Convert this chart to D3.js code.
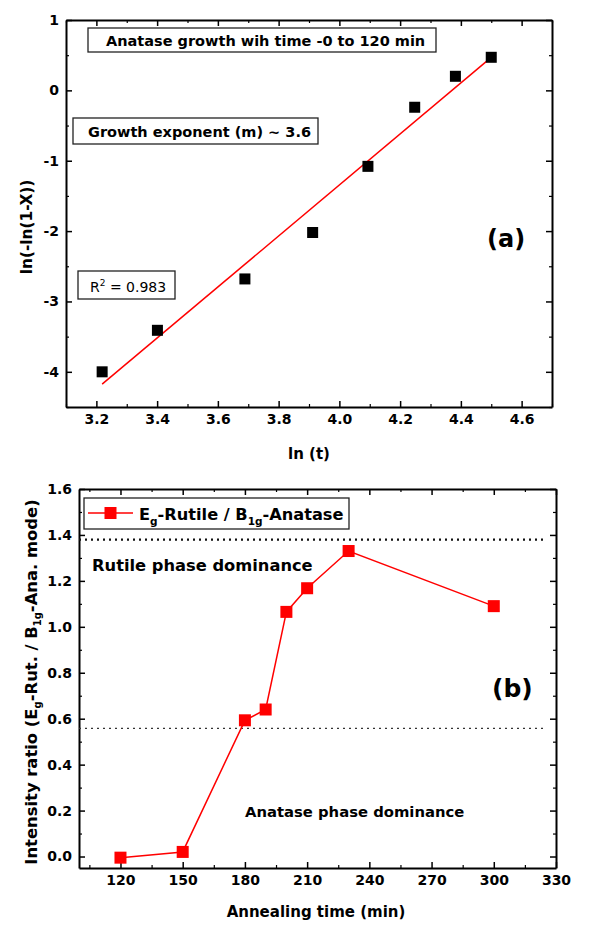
<!DOCTYPE html>
<html>
<head>
<meta charset="utf-8">
<script src="https://cdn.jsdelivr.net/npm/d3@7"></script>
<style>
  body { margin: 0; background: #fff; }
  text { font-family: "DejaVu Sans", sans-serif; }
</style>
</head>
<body>
<svg id="chart"></svg>
<script>
// panel (a) - Avrami plot, ln(-ln(1-X)) vs ln(t)
const lnT = [3.219, 3.401, 3.689, 3.912, 4.094, 4.248, 4.382, 4.500];
const lnLnX = [-4.00, -3.41, -2.68, -2.02, -1.08, -0.24, 0.20, 0.47];
const xTicksA = [3.2, 3.4, 3.6, 3.8, 4.0, 4.2, 4.4, 4.6];
const yTicksA = [1, 0, -1, -2, -3, -4];

// panel (b) - Eg(rutile)/B1g(anatase) intensity ratio vs annealing time
const annealTime = [120, 150, 180, 190, 200, 210, 230, 300];
const intensityRatio = [-0.005, 0.02, 0.593, 0.64, 1.065, 1.168, 1.33, 1.09];
const xTicksB = [120, 150, 180, 210, 240, 270, 300, 330];
const yTicksB = [0, 0.2, 0.4, 0.6, 0.8, 1.0, 1.2, 1.4, 1.6];
const rutileLevel = 1.38;
const anataseLevel = 0.558;

const W = 600, H = 928;
const svg = d3.select('#chart').attr('width', W).attr('height', H);

// draws a boxed frame with inward ticks on all four sides
function frame(g, x, y, majorX, majorY, minorX, minorY, fmtX, fmtY) {
    const [x0, x1] = x.range();
    const [y0, y1] = y.range(); // y0 = bottom
    const axes = [
        [d3.axisBottom(x), `translate(0,${y0})`, majorX, minorX, fmtX],
        [d3.axisTop(x), `translate(0,${y1})`, majorX, minorX, null],
        [d3.axisLeft(y), `translate(${x0},0)`, majorY, minorY, fmtY],
        [d3.axisRight(y), `translate(${x1},0)`, majorY, minorY, null]
    ];
    axes.forEach(([ax, tr, major, minor, fmt]) => {
        const a = g.append('g').attr('transform', tr)
            .call(ax.tickValues(major).tickSizeInner(-6).tickSizeOuter(0)
                .tickPadding(fmt ? 7 : 0).tickFormat(fmt || (() => '')));
        a.select('.domain').attr('stroke-width', 2);
        a.selectAll('.tick line').attr('stroke-width', 1.5);
        if (!fmt) a.selectAll('text').remove();
        a.selectAll('text').attr('font-size', 14).attr('font-weight', 'bold').attr('fill', '#000');
        const m = g.append('g').attr('transform', tr)
            .call(ax.tickValues(minor).tickSizeInner(-3).tickFormat(() => ''));
        m.select('.domain').remove();
        m.selectAll('text').remove();
        m.selectAll('.tick line').attr('stroke-width', 1.2);
    });
}

function boxText(g, x, y, w, h) {
    g.append('rect').attr('x', x).attr('y', y).attr('width', w).attr('height', h)
        .attr('fill', '#fff').attr('stroke', '#222').attr('stroke-width', 1.3);
}

// ---------- panel (a) ----------
const xA = d3.scaleLinear().domain([3.1, 4.7]).range([66, 552]);
const yA = d3.scaleLinear().domain([-4.5, 1]).range([407, 20]);
const gA = svg.append('g');

frame(gA, xA, yA, xTicksA, yTicksA,
    d3.range(3.1, 4.71, 0.1).filter(v => Math.abs(Math.round(v * 10) % 2) === 1),
    d3.range(-4.5, 1, 1),
    d3.format('.1f'), d => String(d));

// least squares fit
const mx = d3.mean(lnT), my = d3.mean(lnLnX);
const slope = d3.sum(lnT, (v, i) => (v - mx) * (lnLnX[i] - my)) / d3.sum(lnT, v => (v - mx) ** 2);
const icpt = my - slope * mx;
const fitX = d3.extent(lnT);
gA.append('line')
    .attr('x1', xA(fitX[0])).attr('y1', yA(icpt + slope * fitX[0]))
    .attr('x2', xA(fitX[1])).attr('y2', yA(icpt + slope * fitX[1]))
    .attr('stroke', '#f00').attr('stroke-width', 1.5);

gA.selectAll('.pt').data(lnT).join('rect')
    .attr('x', d => xA(d) - 5.5).attr('y', (d, i) => yA(lnLnX[i]) - 5.5)
    .attr('width', 11).attr('height', 11).attr('fill', '#000');

boxText(gA, 88, 28, 348, 24);
gA.append('text').attr('x', 106).attr('y', 46).attr('font-size', 14.5).attr('font-weight', 'bold')
    .text('Anatase growth wih time -0 to 120 min');
boxText(gA, 73, 118, 245, 26);
gA.append('text').attr('x', 88).attr('y', 137).attr('font-size', 14.5).attr('font-weight', 'bold')
    .text('Growth exponent (m) ~ 3.6');
boxText(gA, 78, 271, 97, 28);
const r2 = gA.append('text').attr('x', 90).attr('y', 292).attr('font-size', 14);
r2.append('tspan').text('R');
r2.append('tspan').attr('dy', -6).attr('font-size', 9).text('2');
r2.append('tspan').attr('dy', 6).text(' = 0.983');

gA.append('text').attr('x', 487).attr('y', 247).attr('font-size', 24).attr('font-weight', 'bold').text('(a)');

gA.append('text').attr('x', 309).attr('y', 459).attr('text-anchor', 'middle')
    .attr('font-size', 15).attr('font-weight', 'bold').text('ln (t)');
gA.append('text').attr('transform', 'translate(32,227) rotate(-90)').attr('text-anchor', 'middle')
    .attr('font-size', 15.4).attr('font-weight', 'bold').text('ln(-ln(1-X))');

// ---------- panel (b) ----------
const xB = d3.scaleLinear().domain([100, 330]).range([79, 556]);
const yB = d3.scaleLinear().domain([-0.05, 1.6]).range([868, 489]);
const gB = svg.append('g');

frame(gB, xB, yB, xTicksB, yTicksB,
    d3.range(105, 330, 30), d3.range(0.1, 1.6, 0.2),
    d3.format('d'), d3.format('.1f'));

gB.append('line')
    .attr('x1', xB(100)).attr('x2', xB(324))
    .attr('y1', yB(rutileLevel)).attr('y2', yB(rutileLevel))
    .attr('stroke', '#111').attr('stroke-width', 2.2).attr('stroke-dasharray', '2,4');
gB.append('line')
    .attr('x1', xB(100)).attr('x2', xB(324))
    .attr('y1', yB(anataseLevel)).attr('y2', yB(anataseLevel))
    .attr('stroke', '#333').attr('stroke-width', 1.2).attr('stroke-dasharray', '2,4');

const line = d3.line().x(d => xB(d[0])).y(d => yB(d[1]));
gB.append('path').datum(annealTime.map((t, i) => [t, intensityRatio[i]]))
    .attr('d', line).attr('fill', 'none').attr('stroke', '#f00').attr('stroke-width', 1.5);
gB.selectAll('.pt').data(annealTime).join('rect')
    .attr('x', d => xB(d) - 6).attr('y', (d, i) => yB(intensityRatio[i]) - 6)
    .attr('width', 12).attr('height', 12).attr('fill', '#f00');

// legend
boxText(gB, 84, 498, 265, 31);
gB.append('line').attr('x1', 88).attr('x2', 133).attr('y1', 513).attr('y2', 513)
    .attr('stroke', '#f00').attr('stroke-width', 1.5);
gB.append('rect').attr('x', 104.5).attr('y', 507).attr('width', 12).attr('height', 12).attr('fill', '#f00');
const lg = gB.append('text').attr('x', 139).attr('y', 520).attr('font-size', 16.2).attr('font-weight', 'bold');
lg.append('tspan').text('E');
lg.append('tspan').attr('dy', 5).attr('font-size', 10.5).text('g');
lg.append('tspan').attr('dy', -5).text('-Rutile / B');
lg.append('tspan').attr('dy', 5).attr('font-size', 10.5).text('1g');
lg.append('tspan').attr('dy', -5).text('-Anatase');

gB.append('text').attr('x', 92).attr('y', 571).attr('font-size', 16.3).attr('font-weight', 'bold')
    .text('Rutile phase dominance');
gB.append('text').attr('x', 245).attr('y', 817).attr('font-size', 14.8).attr('font-weight', 'bold')
    .text('Anatase phase dominance');
gB.append('text').attr('x', 492).attr('y', 697).attr('font-size', 25).attr('font-weight', 'bold').text('(b)');

gB.append('text').attr('x', 316).attr('y', 917).attr('text-anchor', 'middle')
    .attr('font-size', 15).attr('font-weight', 'bold').text('Annealing time (min)');
const yl = gB.append('text').attr('transform', 'translate(37,682) rotate(-90)').attr('text-anchor', 'middle')
    .attr('font-size', 16.4).attr('font-weight', 'bold');
yl.append('tspan').text('Intensity ratio (E');
yl.append('tspan').attr('dy', 4).attr('font-size', 10).text('g');
yl.append('tspan').attr('dy', -4).text('-Rut. / B');
yl.append('tspan').attr('dy', 4).attr('font-size', 10).text('1g');
yl.append('tspan').attr('dy', -4).text('-Ana. mode)');
</script>
</body>
</html>
